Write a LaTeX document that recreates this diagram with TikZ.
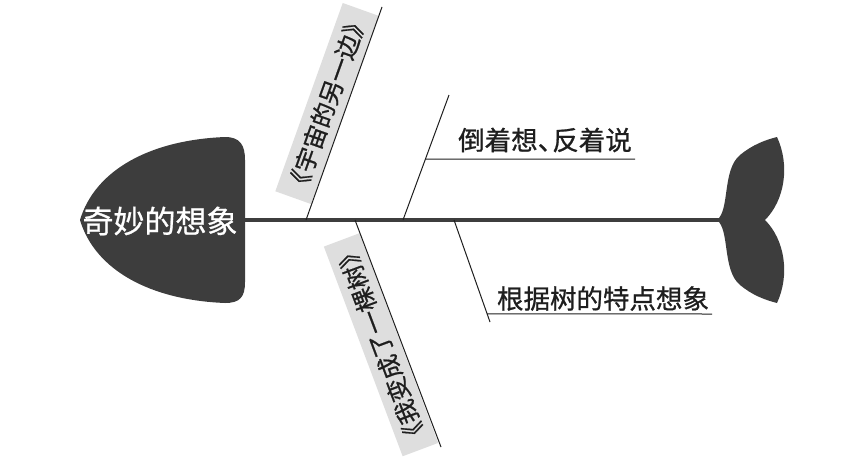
\documentclass[tikz,border=0pt]{standalone}
\usepackage{fontspec}
\setmainfont{Noto Sans CJK SC}
\newfontfamily\lblfont{Noto Sans CJK SC}[FakeBold=0.8]
\definecolor{fishgray}{HTML}{3D3D3D}
\definecolor{boxgray}{HTML}{DEDEDE}
\definecolor{ink}{HTML}{1E1E1E}
\begin{document}
\begin{tikzpicture}[x=1pt,y=-1pt,
  bone/.style={draw=ink, line width=1pt},
  spine/.style={draw=fishgray, line width=3.2pt},
  tag/.style={fill=boxgray, text=ink, font=\lblfont\fontsize{24}{24}\selectfont, anchor=south, minimum height=38pt, inner xsep=4pt, inner ysep=2pt},
  lbl/.style={text=ink, font=\lblfont\fontsize{26.5}{26.5}\selectfont, inner sep=0pt}]
\useasboundingbox (0,0) rectangle (853,461);
% head
\fill[fishgray] (80,220) .. controls (95,170) and (150,140) .. (225,137)
  .. controls (240,137) and (245,145) .. (245,160) -- (245,282)
  .. controls (245,297) and (240,303) .. (225,303)
  .. controls (150,300) and (95,270) .. (80,220) -- cycle;
\node[font=\lblfont\fontsize{31}{31}\selectfont, text=white, inner sep=0pt] (head) at (160,221) {奇妙的想象};
% tail
\fill[fishgray] (717,220) .. controls (730,210) and (722,170) .. (740,155)
  .. controls (752,145) and (765,140) .. (777,137)
  .. controls (790,165) and (785,200) .. (765,220)
  .. controls (785,240) and (790,275) .. (777,303)
  .. controls (765,300) and (752,295) .. (740,285)
  .. controls (722,270) and (730,230) .. (717,220) -- cycle;
% spine
\coordinate (spineL) at (245,220);
\coordinate (spineR) at (720,220);
\draw[spine] (spineL) -- (spineR);
% bone 1
\coordinate (b1s) at (306,220);
\coordinate (b1e) at (382,7);
\node[tag, rotate=70.3] (t1) at (345,110) {《宇宙的另一边》};
\draw[bone] (b1s) -- (b1e);
% bone 2
\coordinate (b2s) at (403,220);
\coordinate (b2e) at (449,95);
\draw[bone] (b2s) -- (b2e);
\path (b2s) -- (b2e) coordinate[pos=0.488] (u2s);
\coordinate (u2e) at (635,159);
\draw[bone] (u2s) -- (u2e);
\node[lbl] (t2) at (545,140) {倒着想、\hspace{-0.45em}反着说};
% bone 3
\coordinate (b3s) at (454,220);
\coordinate (b3e) at (490,322);
\draw[bone] (b3s) -- (b3e);
\path (b3s) -- (b3e) coordinate[pos=0.92] (u3s);
\coordinate (u3e) at (712,314);
\draw[bone] (u3s) -- (u3e);
\node[lbl] (t3) at (603,298.5) {根据树的特点想象};
% bone 4
\coordinate (b4s) at (355,220);
\coordinate (b4e) at (441,447);
\node[tag, rotate=110.6] (t4) at (399,338) {《我变成了一棵树》};
\draw[bone] (b4s) -- (b4e);
\end{tikzpicture}
\end{document}
